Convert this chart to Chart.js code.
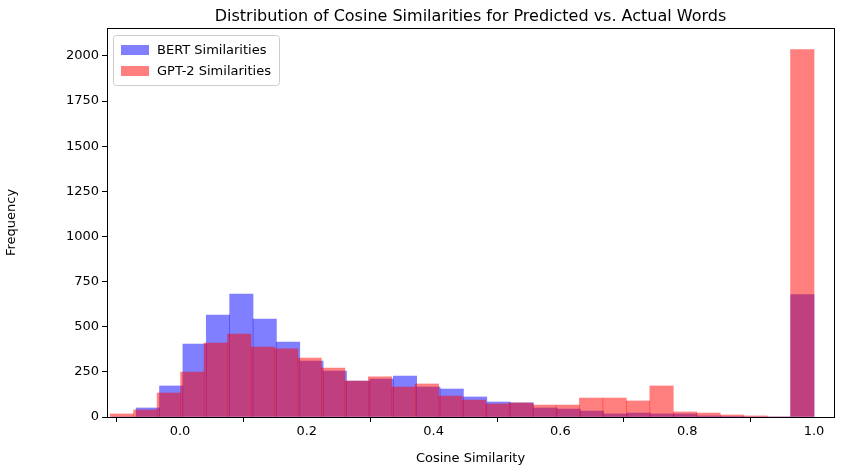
<!DOCTYPE html>
<html><head><meta charset="utf-8">
<script src="https://cdn.jsdelivr.net/npm/chart.js@4"></script>
<style>html,body{margin:0;background:#fff}#wrap{width:859px;height:470px}</style>
</head><body><div id="wrap"><canvas id="c"></canvas></div>
<script>
const bertStart=-0.106, bertWidth=0.03687;
const bertCounts=[0,50,172,404,565,681,543,415,310,255,199,210,227,166,155,111,83,78,50,44,33,17,22,17,17,6,3,0,0,678];
const gptStart=-0.110, gptWidth=0.0370;
const gptCounts=[17,39,133,249,410,460,388,377,327,271,199,222,166,183,116,94,72,78,66,66,105,105,89,172,28,22,11,6,0,2035];
const labels=["BERT Similarities","GPT-2 Similarities"];
const xTicks=[0,0.2,0.4,0.6,0.8,1.0];
const yTicks=[0,250,500,750,1000,1250,1500,1750,2000];

const pts=(s,w,c)=>c.map((v,i)=>({x:s+w*(i+0.5),y:v}));
const F="'DejaVu Sans'";
const tk={drawOnChartArea:false,tickLength:5,color:"#000"};
const xs={type:"linear",offset:false,min:-0.1151,max:1.0315,grid:tk,border:{color:"#000"}};
const deco={id:"deco",afterDraw(ch){
  const {ctx,chartArea:a}=ch;ctx.save();
  ctx.strokeStyle="#000";ctx.lineWidth=1;ctx.strokeRect(a.left+0.5,a.top+0.5,a.right-a.left,a.bottom-a.top);
  ctx.fillStyle="#000";ctx.font="16px "+F;ctx.textAlign="center";ctx.textBaseline="middle";
  ctx.fillText("Distribution of Cosine Similarities for Predicted vs. Actual Words",(a.left+a.right)/2,17);
  const lx=a.left+6,ly=a.top+7;
  ctx.strokeStyle="#ccc";ctx.fillStyle="rgba(255,255,255,0.8)";
  ctx.beginPath();ctx.roundRect(lx+0.5,ly+0.5,166,50,3);ctx.fill();ctx.stroke();
  ctx.font="13px "+F;ctx.textAlign="left";
  ch.data.datasets.forEach((d,i)=>{const y=ly+15+i*21;
    ctx.fillStyle=d.backgroundColor;ctx.fillRect(lx+8,y-5,28,10);
    ctx.fillStyle="#000";ctx.fillText(d.label,lx+44,y+1);});
  ctx.restore();}};
new Chart("c",{type:"bar",data:{datasets:[
  {label:labels[0],data:pts(bertStart,bertWidth,bertCounts),backgroundColor:"rgba(0,0,255,0.5)",xAxisID:"x",order:2},
  {label:labels[1],data:pts(gptStart,gptWidth,gptCounts),backgroundColor:"rgba(255,0,0,0.5)",xAxisID:"x2",order:1}
]},options:{responsive:true,maintainAspectRatio:false,animation:false,
  layout:{padding:{top:28,right:25,left:0,bottom:0}},
  grouped:false,barPercentage:1,categoryPercentage:1,borderWidth:0,
  plugins:{legend:{display:false},tooltip:{enabled:false}},
  scales:{
    x:{...xs,afterFit(s){s.height=53},afterBuildTicks(s){s.ticks=xTicks.map(v=>({value:v}))},
      ticks:{color:"#000",font:{family:F,size:13},callback:v=>v.toFixed(1),maxRotation:0,padding:2},
      title:{display:true,text:"Cosine Similarity",color:"#000",font:{family:F,size:13},padding:{top:2}}},
    x2:{...xs,display:false},
    y:{min:0,max:2155,grid:tk,border:{color:"#000"},afterFit(s){s.width=107},
      afterBuildTicks(s){s.ticks=yTicks.map(v=>({value:v}))},
      ticks:{color:"#000",font:{family:F,size:13},callback:v=>String(v),padding:3},
      title:{display:true,text:"Frequency",color:"#000",font:{family:F,size:13},padding:{bottom:14}}}
  }},plugins:[deco]});
</script></body></html>
